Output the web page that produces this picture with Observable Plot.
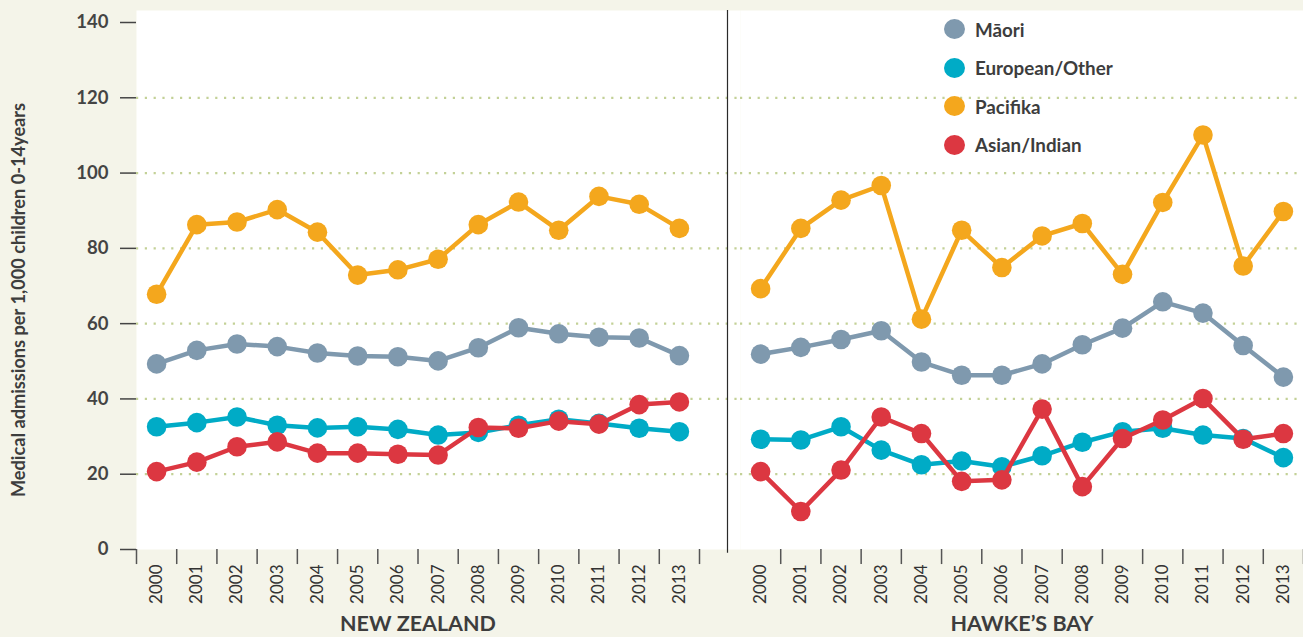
<!DOCTYPE html>
<html>
<head>
<meta charset="utf-8">
<script src="https://cdn.jsdelivr.net/npm/d3@7"></script>
<script src="https://cdn.jsdelivr.net/npm/@observablehq/plot@0.6"></script>
<style>
  html, body { margin: 0; padding: 0; background: #f4f4e9; }
  #wrap { position: relative; width: 1303px; height: 637px; overflow: hidden; font-family: Lato, "Open Sans", sans-serif; }
  #legend { position: absolute; left: 944px; top: 10px; }
  #legend .item { display: flex; align-items: center; height: 38.5px; }
  #legend .sw { width: 21px; height: 20px; border-radius: 50%; margin-right: 10px; }
  #legend .lb { font-weight: bold; font-size: 18.8px; color: #3d3d3d; }
  #ylabel { position: absolute; left: 18px; top: 300px; transform: translate(-50%, -50%) rotate(-90deg); white-space: nowrap;
            font-weight: bold; font-size: 18.2px; color: #3d3d3d; }
</style>
</head>
<body>
<div id="wrap"><div id="chart"></div><div id="legend"></div><div id="ylabel"></div></div>
<script>
const years = [2000,2001,2002,2003,2004,2005,2006,2007,2008,2009,2010,2011,2012,2013];
const regions = ["NEW ZEALAND", "HAWKE\u2019S BAY"];
const seriesNames = ["M\u0101ori", "European/Other", "Pacifika", "Asian/Indian"];
const seriesColors = ["#7f99ae", "#00abc6", "#f4a71d", "#dc3741"];
const yTicks = [0, 20, 40, 60, 80, 100, 120, 140];
const gridValues = [20, 40, 60, 80, 100, 120];
const yLabel = "Medical admissions per 1,000 children 0-14years";

// New Zealand
const nzMaori    = [49.3, 52.9, 54.6, 53.9, 52.2, 51.4, 51.2, 50.1, 53.6, 58.9, 57.3, 56.4, 56.2, 51.5];
const nzEuropean = [32.6, 33.7, 35.2, 33.0, 32.3, 32.6, 31.9, 30.4, 31.1, 33.0, 34.6, 33.5, 32.2, 31.3];
const nzPacifika = [67.8, 86.3, 87.0, 90.3, 84.3, 72.9, 74.3, 77.1, 86.3, 92.3, 84.8, 93.8, 91.7, 85.3];
const nzAsian    = [20.7, 23.2, 27.3, 28.6, 25.6, 25.6, 25.3, 25.1, 32.4, 32.2, 34.1, 33.3, 38.5, 39.2];
// Hawke's Bay
const hbMaori    = [51.9, 53.7, 55.8, 58.1, 49.8, 46.3, 46.3, 49.3, 54.4, 58.8, 65.8, 62.8, 54.2, 45.8];
const hbEuropean = [29.3, 29.1, 32.6, 26.4, 22.5, 23.5, 22.0, 24.9, 28.5, 31.3, 32.2, 30.4, 29.5, 24.4];
const hbPacifika = [69.3, 85.3, 92.8, 96.7, 61.2, 84.8, 74.9, 83.3, 86.6, 73.1, 92.2, 110.1, 75.3, 89.8];
const hbAsian    = [20.7, 10.1, 21.1, 35.2, 30.8, 18.1, 18.5, 37.3, 16.7, 29.5, 34.4, 40.1, 29.3, 30.8];

const valuesByRegion = {
  [regions[0]]: [nzMaori, nzEuropean, nzPacifika, nzAsian],
  [regions[1]]: [hbMaori, hbEuropean, hbPacifika, hbAsian]
};

const data = [];
for (const region of regions) {
  seriesNames.forEach((s, si) => {
    valuesByRegion[region][si].forEach((v, i) => data.push({region, series: s, year: years[i], value: v}));
  });
}

const boundaries = [];
regions.forEach((region, ri) => {
  const list = ri === 0 ? [years[0] - 0.5, ...years.map(y => y + 0.5)] : years.map(y => y + 0.5);
  list.forEach(b => boundaries.push({region, b}));
});

const seriesMarks = [];
for (const s of seriesNames) {
  const d = data.filter(r => r.series === s);
  seriesMarks.push(Plot.line(d, {x: "year", y: "value", fx: "region", stroke: "series", strokeWidth: 4.5, z: "series"}));
  seriesMarks.push(Plot.dot(d, {x: "year", y: "value", fx: "region", fill: "series", r: 9.8}));
}

const chart = Plot.plot({
  width: 1303,
  height: 637,
  marginLeft: 136,
  marginRight: 0,
  marginTop: 22,
  marginBottom: 88,
  style: {background: "transparent", fontFamily: "Lato, 'Open Sans', sans-serif", color: "#3d3d3d"},
  x: {domain: [years[0] - 0.5, years[years.length - 1] + 0.5]},
  y: {domain: [0, 140]},
  fx: {domain: regions, padding: 0.068},
  color: {domain: seriesNames, range: seriesColors},
  marks: [
    Plot.frame({fill: "white", stroke: "none", insetRight: -41, insetTop: -12}),
    Plot.ruleY(gridValues, {stroke: "#c3d197", strokeWidth: 2.2, strokeDasharray: "2.2,6.6", insetRight: -41}),
    Plot.ruleX([{region: regions[1], b: years[0] - 0.5}], {x: "b", fx: "region", y1: -1, y2: 143.2, dx: -13, stroke: "#2a2a2a", strokeWidth: 1.2}),
    Plot.ruleX(boundaries, {x: "b", fx: "region", y1: 0, y2: -4, stroke: "#555", strokeWidth: 1.5}),
    Plot.axisY({ticks: yTicks, tickSize: 16, tickPadding: 12, fontSize: 18.5, fontWeight: "bold", color: "#444", strokeWidth: 1.5, label: null}),
    Plot.axisX({ticks: years, tickFormat: d => String(d), tickRotate: -90, tickSize: 0, tickPadding: 15, fontSize: 17, color: "#333", label: null}),
    Plot.axisFx({anchor: "bottom", tickSize: 0, tickPadding: 66, fontSize: 21.5, fontWeight: "bold", color: "#3d3d3d", label: null}),
    ...seriesMarks
  ]
});
document.getElementById("chart").appendChild(chart);

d3.select("#ylabel").text(yLabel);
const legend = d3.select("#legend");
seriesNames.forEach((s, i) => {
  const item = legend.append("div").attr("class", "item");
  item.append("div").attr("class", "sw").style("background", seriesColors[i]);
  item.append("div").attr("class", "lb").text(s);
});
</script>
</body>
</html>
